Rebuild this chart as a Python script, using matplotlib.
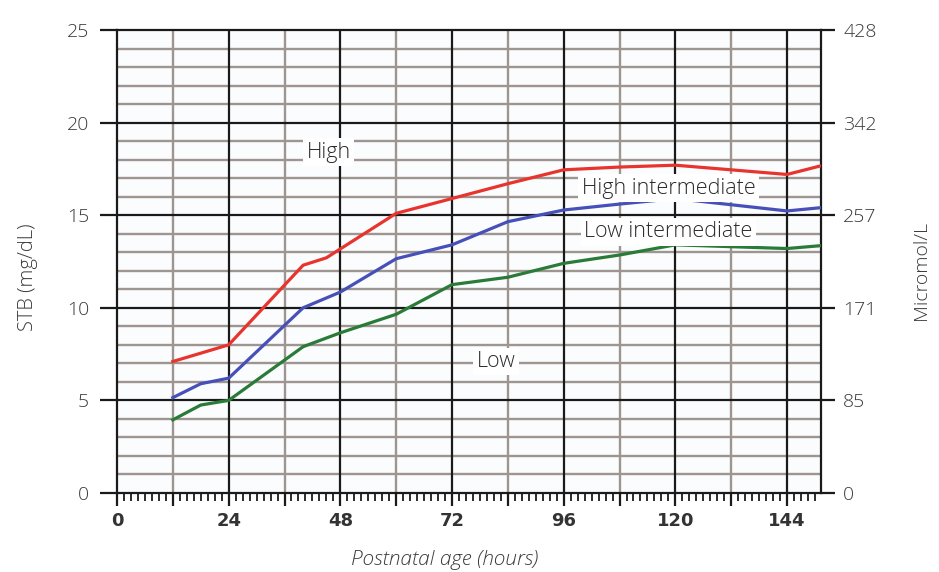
import matplotlib.pyplot as plt
import numpy as np

# data (hours, STB mg/dL)
hours_high = [12, 24, 40, 45, 60, 72, 84, 96, 108, 120, 144, 151]
stb_high = [7.1, 8.0, 12.3, 12.7, 15.1, 15.9, 16.7, 17.45, 17.6, 17.7, 17.2, 17.65]

hours_mid = [12, 18, 24, 40, 48, 60, 72, 84, 96, 108, 120, 144, 151]
stb_mid = [5.15, 5.9, 6.2, 10.0, 10.85, 12.65, 13.4, 14.65, 15.28, 15.6, 15.9, 15.23, 15.4]

hours_low = [12, 18, 24, 40, 48, 60, 72, 84, 96, 108, 120, 144, 151]
stb_low = [3.95, 4.75, 5.0, 7.9, 8.65, 9.65, 11.25, 11.65, 12.4, 12.85, 13.4, 13.2, 13.35]

x_ticks = [0, 24, 48, 72, 96, 120, 144]
y_ticks = [0, 5, 10, 15, 20, 25]
umol_labels = ['0', '85', '171', '257', '342', '428']

zone_labels = ['High', 'High intermediate', 'Low intermediate', 'Low']
zone_x = [45.5, 118.5, 118.5, 81.5]
zone_y = [18.4, 16.45, 14.1, 7.1]

W, H = 939, 572
fig = plt.figure(figsize=(W / 100, H / 100), dpi=100)
ax = fig.add_axes([117 / W, 1 - 493 / H, (821 - 117) / W, (493 - 30) / H])
ax.set_facecolor('#fbfcfe')

xmax = 151.3
ax.set_xlim(0, xmax)
ax.set_ylim(0, 25)

# grid: minor lines gray, major lines black
for h in np.arange(12, xmax, 24):
    ax.axvline(h, color='#9e9490', lw=1.7, zorder=1)
for h in np.arange(24, xmax, 24):
    ax.axvline(h, color='#1a1a1a', lw=1.6, zorder=1.2)
for v in range(1, 25):
    if v % 5:
        ax.axhline(v, color='#9e9490', lw=1.7, zorder=1)
for v in range(5, 25, 5):
    ax.axhline(v, color='#1a1a1a', lw=1.6, zorder=1.2)

ax.plot(hours_high, stb_high, color='#e8342c', lw=2.3, zorder=3)
ax.plot(hours_mid, stb_mid, color='#4650b8', lw=2.3, zorder=3)
ax.plot(hours_low, stb_low, color='#2a7a38', lw=2.3, zorder=3)

for lab, zx, zy in zip(zone_labels, zone_x, zone_y):
    ax.text(zx, zy, lab, ha='center', va='center', fontsize=15.5, color='#2a2a2a',
            family='Open Sans', fontweight='light', zorder=4,
            bbox=dict(facecolor='white', edgecolor='none', pad=2.5))

for s in ax.spines.values():
    s.set_color('#1a1a1a')
    s.set_linewidth(1.6)

# left axis
ax.set_yticks(y_ticks)
ax.set_yticklabels([str(v) for v in y_ticks], family='Open Sans', fontweight='light',
                   fontsize=14, color='#3a3a3a')
ax.tick_params(axis='y', direction='out', length=12, width=1.6, color='#1a1a1a', pad=8)

# bottom axis
ax.set_xticks(np.arange(0, xmax, 12))
ax.set_xticklabels([str(int(h)) if h % 24 == 0 else '' for h in np.arange(0, xmax, 12)],
                   fontsize=13, fontweight='bold', color='#333333', family='DejaVu Sans')
ax.set_xticks(np.arange(0, xmax, 1.5), minor=True)
ax.tick_params(axis='x', which='major', direction='out', length=9, width=1.6,
               color='#1a1a1a', pad=5)
ax.tick_params(axis='x', which='minor', direction='out', length=6, width=1.3,
               color='#1a1a1a')

# right axis (micromol/L)
ax2 = ax.twinx()
ax2.set_ylim(0, 25)
ax2.set_yticks(y_ticks)
ax2.set_yticklabels(umol_labels, family='Open Sans', fontweight='light', fontsize=14,
                    color='#3a3a3a')
ax2.tick_params(axis='y', direction='out', length=10, width=1.6, color='#1a1a1a', pad=6)
for s in ax2.spines.values():
    s.set_visible(False)

fig.text(28 / W, 1 - 277 / H, 'STB (mg/dL)', rotation=90, ha='center', va='center',
         fontsize=14.5, color='#3a3a3a', family='Open Sans', fontweight='light')
fig.text(921 / W, 1 - 270 / H, 'Micromol/L', rotation=90, ha='center', va='center',
         fontsize=14, color='#3a3a3a', family='Open Sans', fontweight='light')
fig.text(445 / W, 1 - 560 / H, 'Postnatal age (hours)', ha='center', va='center',
         fontsize=15, style='italic', color='#3a3a3a', family='Open Sans',
         fontweight='light')

fig.savefig('out.png', dpi=100)
